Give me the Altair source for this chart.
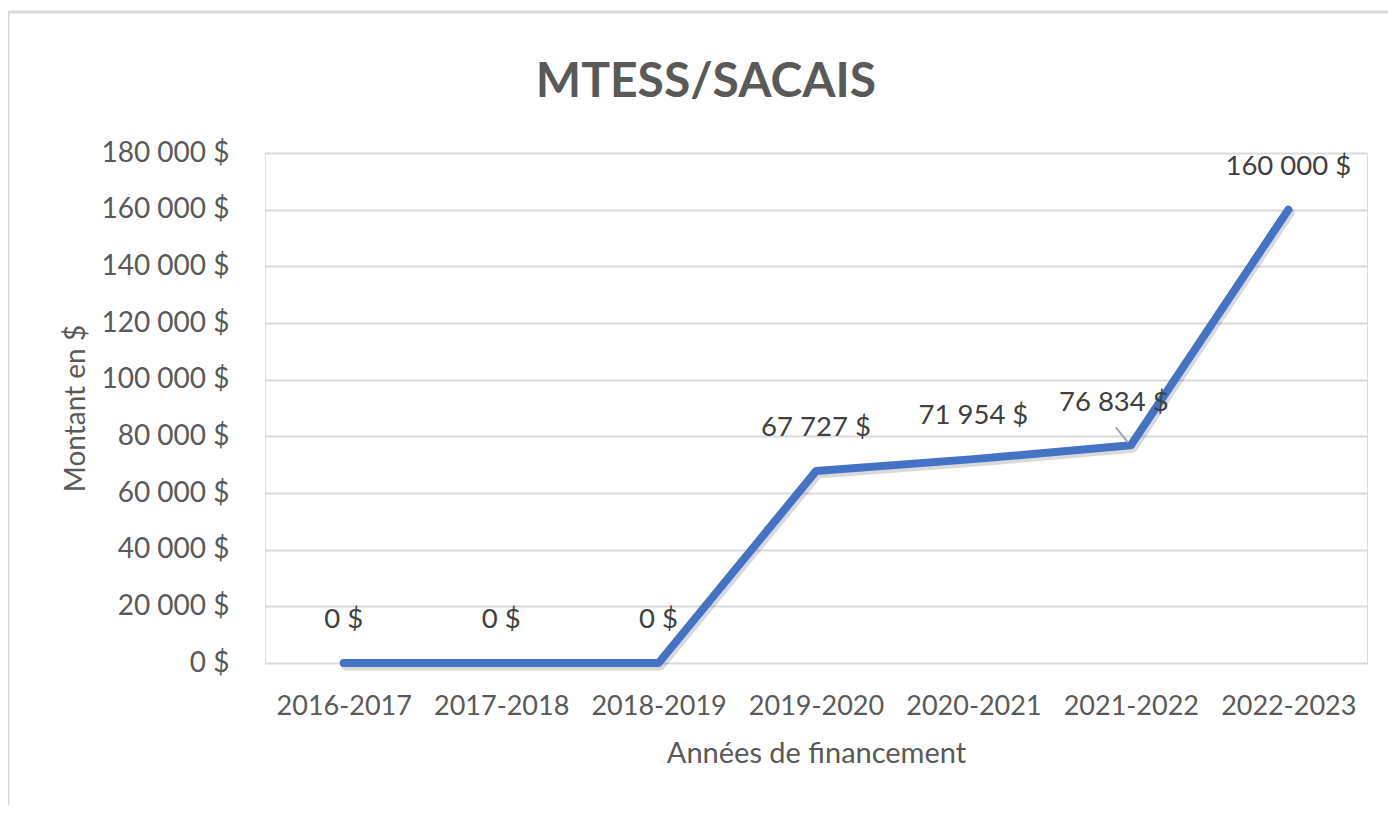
import altair as alt
import pandas as pd

years = ["2016-2017", "2017-2018", "2018-2019", "2019-2020", "2020-2021", "2021-2022", "2022-2023"]
amounts = [0, 0, 0, 67727, 71954, 76834, 160000]
label_texts = ["0 $", "0 $", "0 $", "67 727 $", "71 954 $", "76 834 $", "160 000 $"]
y_ticks = [0, 20000, 40000, 60000, 80000, 100000, 120000, 140000, 160000, 180000]
chart_title = "MTESS/SACAIS"

df = pd.DataFrame({"annee": years, "montant": amounts, "label": label_texts})

FONT = "Lato"
GRAY = "#595959"
DARK = "#404040"

x_enc = alt.X("annee:N", sort=years, scale=alt.Scale(type="point", padding=0.5),
              axis=alt.Axis(title="Années de financement", labelAngle=0, labelFontSize=27,
                            labelColor=GRAY, labelFont=FONT, labelPadding=30, ticks=False,
                            domain=False, titleFontSize=29, titleColor=GRAY, titleFont=FONT,
                            titleFontWeight="normal", titlePadding=20))
y_enc = alt.Y("montant:Q", scale=alt.Scale(domain=[0, 180000], nice=False),
              axis=alt.Axis(title="Montant en $", values=y_ticks,
                            labelExpr="replace(format(datum.value, ',d'), regexp(',', 'g'), ' ') + ' $'",
                            labelFontSize=28, labelColor=GRAY, labelFont=FONT, labelPadding=36,
                            ticks=False, domain=False, gridColor="#d9d9d9", gridWidth=2,
                            titleFontSize=28, titleColor=GRAY, titleFont=FONT,
                            titleFontWeight="normal", titlePadding=10))

base = alt.Chart(df)

frame = alt.Chart(pd.DataFrame({"k": [0]})).mark_rect(
    fill=None, stroke="#d9d9d9", strokeWidth=3
).encode(x=alt.value(-257), x2=alt.value(1140), y=alt.value(-141), y2=alt.value(700))

title = alt.Chart(pd.DataFrame({"t": [chart_title]})).mark_text(
    font=FONT, fontSize=48, fontWeight="bold", color=GRAY, align="center", baseline="alphabetic"
).encode(x=alt.value(441), y=alt.value(-56), text="t:N")

shadow = base.mark_line(strokeWidth=9, color="#000000", opacity=0.15, strokeCap="round",
                        strokeJoin="round", xOffset=2, yOffset=3).encode(x=x_enc, y=y_enc)
line = base.mark_line(strokeWidth=8, color="#4472C4", strokeCap="round",
                      strokeJoin="round").encode(x=x_enc, y=y_enc)

normal = df[df["annee"] != "2021-2022"]
special = df[df["annee"] == "2021-2022"]

labels = alt.Chart(normal).mark_text(font=FONT, fontSize=27.5, color=DARK, dy=-43, baseline="middle").encode(
    x=alt.X("annee:N", sort=years), y=alt.Y("montant:Q"), text="label:N")
label_sp = alt.Chart(special).mark_text(font=FONT, fontSize=27.5, color=DARK, dx=-17, dy=-42,
                                         baseline="middle").encode(
    x=alt.X("annee:N", sort=years), y=alt.Y("montant:Q"), text="label:N")
leader = alt.Chart(special).mark_rule(color="#a6a6a6", strokeWidth=2, xOffset=-15, yOffset=-18,
                                      x2Offset=-3, y2Offset=-3).encode(
    x=alt.X("annee:N", sort=years), x2="annee:N", y=alt.Y("montant:Q"), y2="montant:Q")

chart = alt.layer(frame, title, shadow, line, leader, labels, label_sp).properties(
    width=1102, height=510,
    padding={"left": 257, "top": 145, "right": 21, "bottom": 142},
    autosize=alt.AutoSizeParams(type="none"),
).configure_view(stroke=None).configure(background="white")

chart.save("out.html", embed_options={"renderer": "svg", "actions": False})
